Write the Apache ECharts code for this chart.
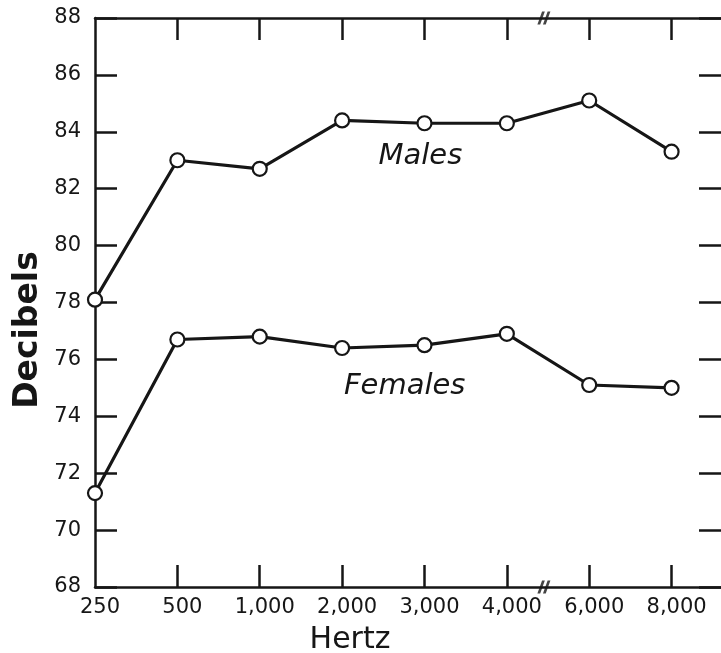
<!DOCTYPE html>
<html>
<head>
<meta charset="utf-8">
<script src="https://cdn.jsdelivr.net/npm/echarts@6/dist/echarts.min.js"></script>
<style>
html,body{margin:0;padding:0;background:#fff;}
#c{width:721px;height:653px;}
</style>
</head>
<body>
<div id="c"></div>
<script>
const categories = ['250', '500', '1,000', '2,000', '3,000', '4,000', '6,000', '8,000'];
const males = [78.1, 83.0, 82.7, 84.4, 84.3, 84.3, 85.1, 83.3];
const females = [71.3, 76.7, 76.8, 76.4, 76.5, 76.9, 75.1, 75.0];
const yMin = 68, yMax = 88, yStep = 2;
const xMax = 7.6;
const tickIdx = [1, 2, 3, 4, 5, 6, 7];
const labelIdx = [0, 1, 2, 3, 4, 5, 6, 7];
const breakAt = 5.45;
const seriesNames = ['Males', 'Females'];
const labelPos = [[3.95, 83.15], [3.76, 75.05]];

const ink = '#161616';
const font = 'DejaVu Sans';
const chart = echarts.init(document.getElementById('c'));

const pts = arr => arr.map((v, i) => [i, v]);
const breakSym = 'path://M0,14 L5,0 L8,0 L3,14 Z M6,14 L11,0 L14,0 L9,14 Z';

function lineSeries(name, data, lp) {
  return {
    name: name, type: 'line', data: pts(data),
    xAxisIndex: 0, yAxisIndex: 0,
    symbol: 'circle', symbolSize: 14,
    lineStyle: {color: ink, width: 3.2},
    itemStyle: {color: '#fff', borderColor: ink, borderWidth: 2.2},
    emphasis: {disabled: true},
    z: 3,
    markPoint: {
      symbol: 'circle', symbolSize: 1,
      itemStyle: {color: 'rgba(0,0,0,0)'},
      label: {show: true, position: 'inside', color: ink, fontFamily: font,
              fontStyle: 'italic', fontSize: 29, formatter: name},
      data: [{coord: lp}]
    }
  };
}

const tickStyle = {color: ink, width: 2.5};

chart.setOption({
  backgroundColor: '#fff',
  animation: false,
  grid: {left: 95, top: 18, right: 0, bottom: 66, outerBoundsMode: 'none'},
  xAxis: [{
    type: 'value', position: 'bottom', min: 0, max: xMax,
    axisLine: {show: true, onZero: false, lineStyle: tickStyle},
    axisTick: {show: true, inside: true, length: 22, lineStyle: tickStyle, customValues: tickIdx},
    axisLabel: {show: true, customValues: labelIdx, color: ink, fontFamily: font, fontSize: 21, margin: 10,
                padding: [0, 0, 0, 10],
                formatter: v => categories[Math.round(v)]},
    splitLine: {show: false}
  }, {
    type: 'value', position: 'top', min: 0, max: xMax,
    axisLine: {show: true, onZero: false, lineStyle: tickStyle},
    axisTick: {show: true, inside: true, length: 22, lineStyle: tickStyle, customValues: tickIdx},
    axisLabel: {show: false},
    splitLine: {show: false}
  }],
  yAxis: [{
    type: 'value', position: 'left', min: yMin, max: yMax, interval: yStep,
    axisLine: {show: true, onZero: false, lineStyle: tickStyle},
    axisTick: {show: true, inside: true, length: 22, lineStyle: tickStyle},
    axisLabel: {color: ink, fontFamily: font, fontSize: 21, margin: 14},
    splitLine: {show: false}
  }, {
    type: 'value', position: 'right', min: yMin, max: yMax, interval: yStep,
    axisLine: {show: false, onZero: false},
    axisTick: {show: true, inside: true, length: 22, lineStyle: tickStyle},
    axisLabel: {show: false},
    splitLine: {show: false}
  }],
  graphic: [{
    type: 'text', x: 350, y: 640,
    style: {text: 'Hertz', fill: ink, font: '30px "DejaVu Sans"', align: 'center', verticalAlign: 'middle'}
  }, {
    type: 'text', x: 28, y: 330, rotation: Math.PI / 2,
    style: {text: 'Decibels', fill: ink, font: 'bold 33px "DejaVu Sans"', align: 'center', verticalAlign: 'middle'}
  }],
  series: [
    lineSeries(seriesNames[0], males, labelPos[0]),
    lineSeries(seriesNames[1], females, labelPos[1]),
    {
      type: 'scatter', data: [[breakAt, yMax], [breakAt, yMin]],
      symbol: breakSym, symbolSize: [13, 13],
      itemStyle: {color: ink}, emphasis: {disabled: true}, z: 5, silent: true
    }
  ]
});
</script>
</body>
</html>
